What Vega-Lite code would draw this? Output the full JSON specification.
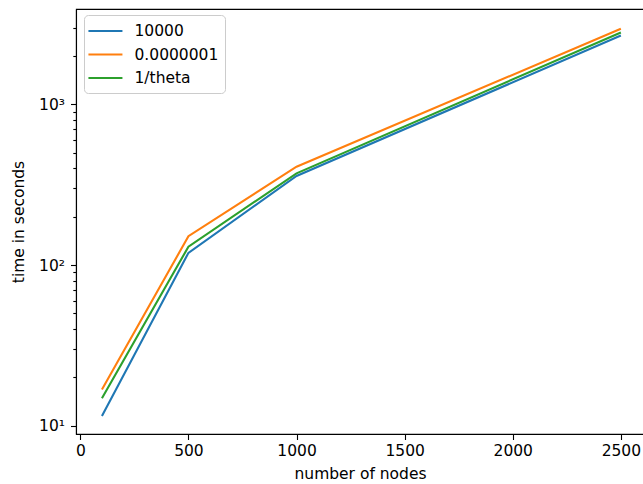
{
  "$schema": "https://vega.github.io/schema/vega-lite/v6.json",
  "width": 568,
  "height": 425,
  "autosize": {"type": "none"},
  "padding": {"left": 76, "top": 9, "right": -1, "bottom": 50},
  "background": "white",
  "config": {
    "font": "DejaVu Sans",
    "view": {"stroke": "black", "strokeWidth": 1.1},
    "axis": {
      "grid": false,
      "domainColor": "black",
      "domainWidth": 1.1,
      "tickColor": "black",
      "tickWidth": 1.1,
      "tickSize": 5.5,
      "labelPadding": 4,
      "labelFontSize": 15.5,
      "labelColor": "black",
      "titleFontSize": 15.5,
      "titleFontWeight": "normal",
      "titleColor": "black"
    }
  },
  "data": {
    "values": [
      {"nodes": 100, "time": 11.5, "series": "10000"},
      {"nodes": 500, "time": 119, "series": "10000"},
      {"nodes": 1000, "time": 358, "series": "10000"},
      {"nodes": 2500, "time": 2680, "series": "10000"},
      {"nodes": 100, "time": 16.8, "series": "0.0000001"},
      {"nodes": 500, "time": 151, "series": "0.0000001"},
      {"nodes": 1000, "time": 409, "series": "0.0000001"},
      {"nodes": 2500, "time": 2950, "series": "0.0000001"},
      {"nodes": 100, "time": 14.8, "series": "1/theta"},
      {"nodes": 500, "time": 130, "series": "1/theta"},
      {"nodes": 1000, "time": 372, "series": "1/theta"},
      {"nodes": 2500, "time": 2800, "series": "1/theta"}
    ]
  },
  "mark": {"type": "line", "strokeWidth": 2.1, "clip": true},
  "encoding": {
    "x": {
      "field": "nodes", "type": "quantitative",
      "scale": {"domain": [-20, 2607], "nice": false, "zero": false},
      "axis": {"values": [0, 500, 1000, 1500, 2000, 2500], "format": "d", "title": "number of nodes", "titlePadding": 7}
    },
    "y": {
      "field": "time", "type": "quantitative",
      "scale": {"type": "log", "domain": [8.88, 3917], "nice": false},
      "axis": {
        "values": [10, 20, 30, 40, 50, 60, 70, 80, 90, 100, 200, 300, 400, 500, 600, 700, 800, 900, 1000, 2000, 3000],
        "labelExpr": "datum.value == 10 ? '10¹' : datum.value == 100 ? '10²' : datum.value == 1000 ? '10³' : ''",
        "tickSize": {"condition": {"test": "datum.value == 10 || datum.value == 100 || datum.value == 1000", "value": 5.5}, "value": 3.2},
        "labelPadding": 6,
        "title": "time in seconds",
        "titlePadding": 12
      }
    },
    "color": {
      "field": "series", "type": "nominal",
      "scale": {"domain": ["10000", "0.0000001", "1/theta"], "range": ["#1f77b4", "#ff7f0e", "#2ca02c"]},
      "legend": {
        "title": null,
        "orient": "none",
        "legendX": 8,
        "legendY": 6,
        "symbolType": "M-1.36,0L2.64,0",
        "symbolSize": 289,
        "symbolStrokeWidth": 2.1,
        "labelFontSize": 15.5,
        "labelColor": "black",
        "labelOffset": 24.5,
        "rowPadding": 4.5,
        "padding": 6,
        "fillColor": "white",
        "strokeColor": "#cccccc",
        "cornerRadius": 4
      }
    }
  }
}
